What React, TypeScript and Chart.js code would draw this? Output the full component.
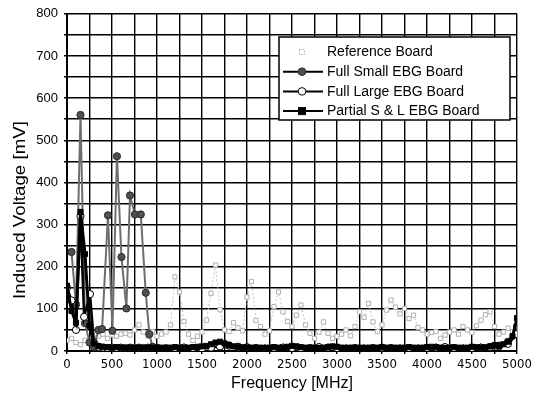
import { useEffect, useRef } from 'react';
import { Chart, registerables } from 'chart.js';

Chart.register(...registerables);

// Reference board: measured every 50 MHz
const refFreq = [
  0, 50, 100, 150, 200, 250, 300, 350, 400, 450, 500, 550, 600, 650, 700, 750, 800, 850, 900, 950,
  1000, 1050, 1100, 1150, 1200, 1250, 1300, 1350, 1400, 1450, 1500, 1550, 1600, 1650, 1700, 1750, 1800, 1850, 1900, 1950,
  2000, 2050, 2100, 2150, 2200, 2250, 2300, 2350, 2400, 2450, 2500, 2550, 2600, 2650, 2700, 2750, 2800, 2850, 2900, 2950,
  3000, 3050, 3100, 3150, 3200, 3250, 3300, 3350, 3400, 3450, 3500, 3550, 3600, 3650, 3700, 3750, 3800, 3850, 3900, 3950,
  4000, 4050, 4100, 4150, 4200, 4250, 4300, 4350, 4400, 4450, 4500, 4550, 4600, 4650, 4700, 4750, 4800, 4850, 4900, 4950, 5000,
];
const refMv = [
  25, 30, 20, 15, 25, 20, 30, 35, 40, 30, 38, 35, 40, 42, 38, 50, 62, 45, 35, 46,
  35, 40, 45, 62, 176, 140, 70, 40, 25, 35, 45, 73, 137, 204, 98, 50, 46, 67, 55, 48,
  128, 165, 72, 58, 40, 48, 105, 140, 93, 70, 58, 85, 109, 62, 42, 30, 45, 69, 42, 30,
  35, 40, 50, 36, 58, 93, 80, 113, 69, 46, 62, 97, 121, 104, 88, 101, 77, 85, 56, 50,
  40, 44, 46, 30, 38, 45, 50, 40, 58, 50, 44, 60, 73, 86, 93, 58, 40, 45, 54, 46, 40,
];

// Full small EBG board
const smallFreq = [
  50, 100, 150, 200, 250, 300, 350, 390, 455, 505, 555, 605, 660, 700, 755, 820, 875, 915, 950,
  1000, 1100, 1200, 1300, 1400, 1500, 1600, 1700, 1800, 1900, 2000, 2100, 2200, 2300, 2400, 2500, 2600, 2700, 2800, 2900,
  3000, 3100, 3200, 3300, 3400, 3500, 3600, 3700, 3800, 3900, 4000, 4100, 4200, 4300, 4400, 4500, 4600, 4700, 4800, 4900, 5000,
];
const smallMv = [
  235, 110, 560, 66, 20, 10, 50, 52, 322, 48, 462, 223, 101, 369, 324, 324, 138, 40, 10,
  8, 7, 7, 8, 7, 6, 8, 11, 13, 10, 9, 7, 6, 7, 8, 7, 6, 7, 9, 8,
  7, 6, 7, 6, 7, 8, 7, 6, 7, 6, 7, 8, 9, 7, 6, 7, 8, 9, 13, 22, 58,
];

// Full large EBG board
const largeFreq = [
  0, 50, 100, 150, 190, 255, 300, 350, 400, 450, 500, 550, 600, 650, 700, 750, 800, 850, 900, 950,
  1000, 1100, 1200, 1300, 1400, 1500, 1600, 1700, 1800, 1900, 2000, 2100, 2200, 2300, 2400, 2500, 2600, 2700, 2800, 2900,
  3000, 3100, 3200, 3300, 3400, 3500, 3600, 3700, 3800, 3900, 4000, 4100, 4200, 4300, 4400, 4500, 4600, 4700, 4800, 4900, 5000,
];
const largeMv = [
  150, 120, 50, 320, 81, 135, 20, 10, 8, 7, 8, 7, 8, 7, 8, 7, 8, 7, 8, 7,
  7, 6, 7, 8, 7, 6, 8, 11, 13, 10, 8, 7, 6, 7, 8, 7, 6, 7, 9, 8,
  7, 6, 7, 6, 7, 8, 7, 6, 7, 6, 7, 8, 9, 7, 6, 7, 8, 9, 11, 17, 40,
];

// Partial small & large EBG board: measured every 50 MHz
const partialFreq = refFreq;
const partialMv = [
  155, 95, 67, 330, 230, 60, 18, 12, 10, 9, 8, 9, 8, 7, 8, 7, 8, 7, 8, 7,
  7, 8, 7, 8, 9, 8, 7, 8, 9, 10, 11, 12, 16, 20, 22, 18, 14, 11, 10, 9,
  8, 8, 7, 8, 7, 8, 9, 8, 7, 10, 12, 11, 9, 8, 7, 8, 7, 8, 9, 11,
  10, 8, 7, 8, 7, 8, 7, 8, 7, 8, 9, 8, 7, 8, 7, 8, 9, 8, 7, 8,
  9, 10, 9, 8, 7, 8, 9, 8, 7, 8, 10, 9, 8, 9, 11, 14, 12, 16, 22, 35, 78,
];

const seriesNames = ['Reference Board', 'Full Small EBG Board', 'Full Large EBG Board', 'Partial S & L EBG Board'];
const xTitle = 'Frequency [MHz]';
const yTitle = 'Induced Voltage [mV]';

const FONT = '"Liberation Sans", Arial, sans-serif';
const NARROW = '"Liberation Sans Narrow", "DejaVu Sans Condensed", "Liberation Sans", sans-serif';

const pts = (fx: number[], vy: number[]) => fx.map((x, i) => ({ x, y: vy[i] }));

// Boxed legend inside the plot, plus the two axis titles
const overlay = {
  id: 'overlay',
  afterDatasetsDraw(chart: any) {
    const ctx: CanvasRenderingContext2D = chart.ctx;
    const { chartArea } = chart;
    ctx.save();

    // legend box
    const bx = 279, by = 37, bw = 231, bh = 83;
    ctx.fillStyle = '#fff';
    ctx.fillRect(bx, by, bw, bh);
    ctx.strokeStyle = '#000';
    ctx.lineWidth = 1.5;
    ctx.strokeRect(bx, by, bw, bh);

    chart.data.datasets.forEach((ds: any, i: number) => {
      const cy = by + 15 + i * 19.7;
      const mx = 302;
      if (i > 0) {
        ctx.strokeStyle = '#000';
        ctx.lineWidth = 2;
        ctx.setLineDash([]);
        ctx.beginPath();
        ctx.moveTo(283, cy);
        ctx.lineTo(323, cy);
        ctx.stroke();
      }
      ctx.lineWidth = 1;
      ctx.fillStyle = ds.pointBackgroundColor;
      ctx.strokeStyle = ds.pointBorderColor;
      if (ds.pointStyle === 'rect') {
        const s = i === 0 ? 5 : 7;
        if (i === 0) ctx.setLineDash([1.5, 1.5]);
        ctx.fillRect(mx - s / 2, cy - s / 2, s, s);
        ctx.strokeRect(mx - s / 2, cy - s / 2, s, s);
        ctx.setLineDash([]);
      } else {
        ctx.beginPath();
        ctx.arc(mx, cy, 3.8, 0, Math.PI * 2);
        ctx.fill();
        ctx.stroke();
      }
      ctx.fillStyle = '#000';
      ctx.font = `14px ${FONT}`;
      ctx.textAlign = 'left';
      ctx.textBaseline = 'middle';
      ctx.fillText(seriesNames[i], 327, cy + 0.5);
    });

    // axis titles
    ctx.fillStyle = '#000';
    ctx.textAlign = 'center';
    ctx.textBaseline = 'middle';
    ctx.font = `16px ${FONT}`;
    ctx.fillText(xTitle, (chartArea.left + chartArea.right) / 2, 384);
    ctx.translate(20, 210);
    ctx.rotate(-Math.PI / 2);
    ctx.scale(1.1, 1);
    ctx.font = `17px ${FONT}`;
    ctx.fillText(yTitle, 0, 0);
    ctx.restore();
  },
};

export default function App() {
  const canvasRef = useRef<HTMLCanvasElement>(null);

  useEffect(() => {
    const chart = new Chart(canvasRef.current!, {
      type: 'line',
      data: {
        datasets: [
          {
            label: seriesNames[0],
            data: pts(refFreq, refMv),
            borderColor: '#c4c4c4',
            borderWidth: 1,
            borderDash: [2, 2],
            pointStyle: 'rect',
            pointRadius: 3,
            pointBorderWidth: 1,
            pointBackgroundColor: '#ffffff',
            pointBorderColor: '#b0b0b0',
            order: 4,
          },
          {
            label: seriesNames[1],
            data: pts(smallFreq, smallMv),
            borderColor: '#6e6e6e',
            borderWidth: 2,
            pointStyle: 'circle',
            pointRadius: 3.6,
            pointBorderWidth: 1,
            pointBackgroundColor: '#505050',
            pointBorderColor: '#2a2a2a',
            order: 3,
          },
          {
            label: seriesNames[2],
            data: pts(largeFreq, largeMv),
            borderColor: '#000',
            borderWidth: 2.5,
            pointStyle: 'circle',
            pointRadius: 3.6,
            pointBorderWidth: 1,
            pointBackgroundColor: '#ffffff',
            pointBorderColor: '#000',
            order: 2,
          },
          {
            label: seriesNames[3],
            data: pts(partialFreq, partialMv),
            borderColor: '#000',
            borderWidth: 3,
            pointStyle: 'rect',
            pointRadius: 3.6,
            pointBorderWidth: 1,
            pointBackgroundColor: '#000',
            pointBorderColor: '#000',
            order: 1,
          },
        ],
      },
      options: {
        responsive: false,
        animation: false,
        layout: { padding: { left: 0, top: 13, right: 31, bottom: 0 } },
        plugins: { legend: { display: false }, tooltip: { enabled: false } },
        elements: { line: { tension: 0 } },
        scales: {
          x: {
            type: 'linear',
            min: 0,
            max: 5000,
            afterFit: (s: any) => { s.height = 48; },
            grid: { color: '#000', lineWidth: 1.4, tickLength: 3 },
            border: { color: '#000', width: 2 },
            ticks: {
              stepSize: 250,
              autoSkip: false,
              maxRotation: 0,
              padding: 3,
              color: '#000',
              font: { family: NARROW, size: 13 },
              callback: (v: any) => (Number(v) % 500 === 0 ? String(v) : ''),
            },
          },
          y: {
            min: 0,
            max: 800,
            afterFit: (s: any) => { s.width = 67; },
            grid: { color: '#000', lineWidth: 1.4, tickLength: 3 },
            border: { color: '#000', width: 2 },
            ticks: {
              stepSize: 50,
              padding: 6,
              color: '#000',
              font: { family: FONT, size: 13 },
              callback: (v: any) => (Number(v) % 100 === 0 ? String(v) : ''),
            },
          },
        },
      },
      plugins: [overlay],
    });
    return () => chart.destroy();
  }, []);

  return (
    <div style={{ position: 'absolute', left: 0, top: 0, width: 548, height: 399, background: '#fff' }}>
      <canvas ref={canvasRef} width={548} height={399} style={{ width: 548, height: 399, display: 'block' }} />
    </div>
  );
}
